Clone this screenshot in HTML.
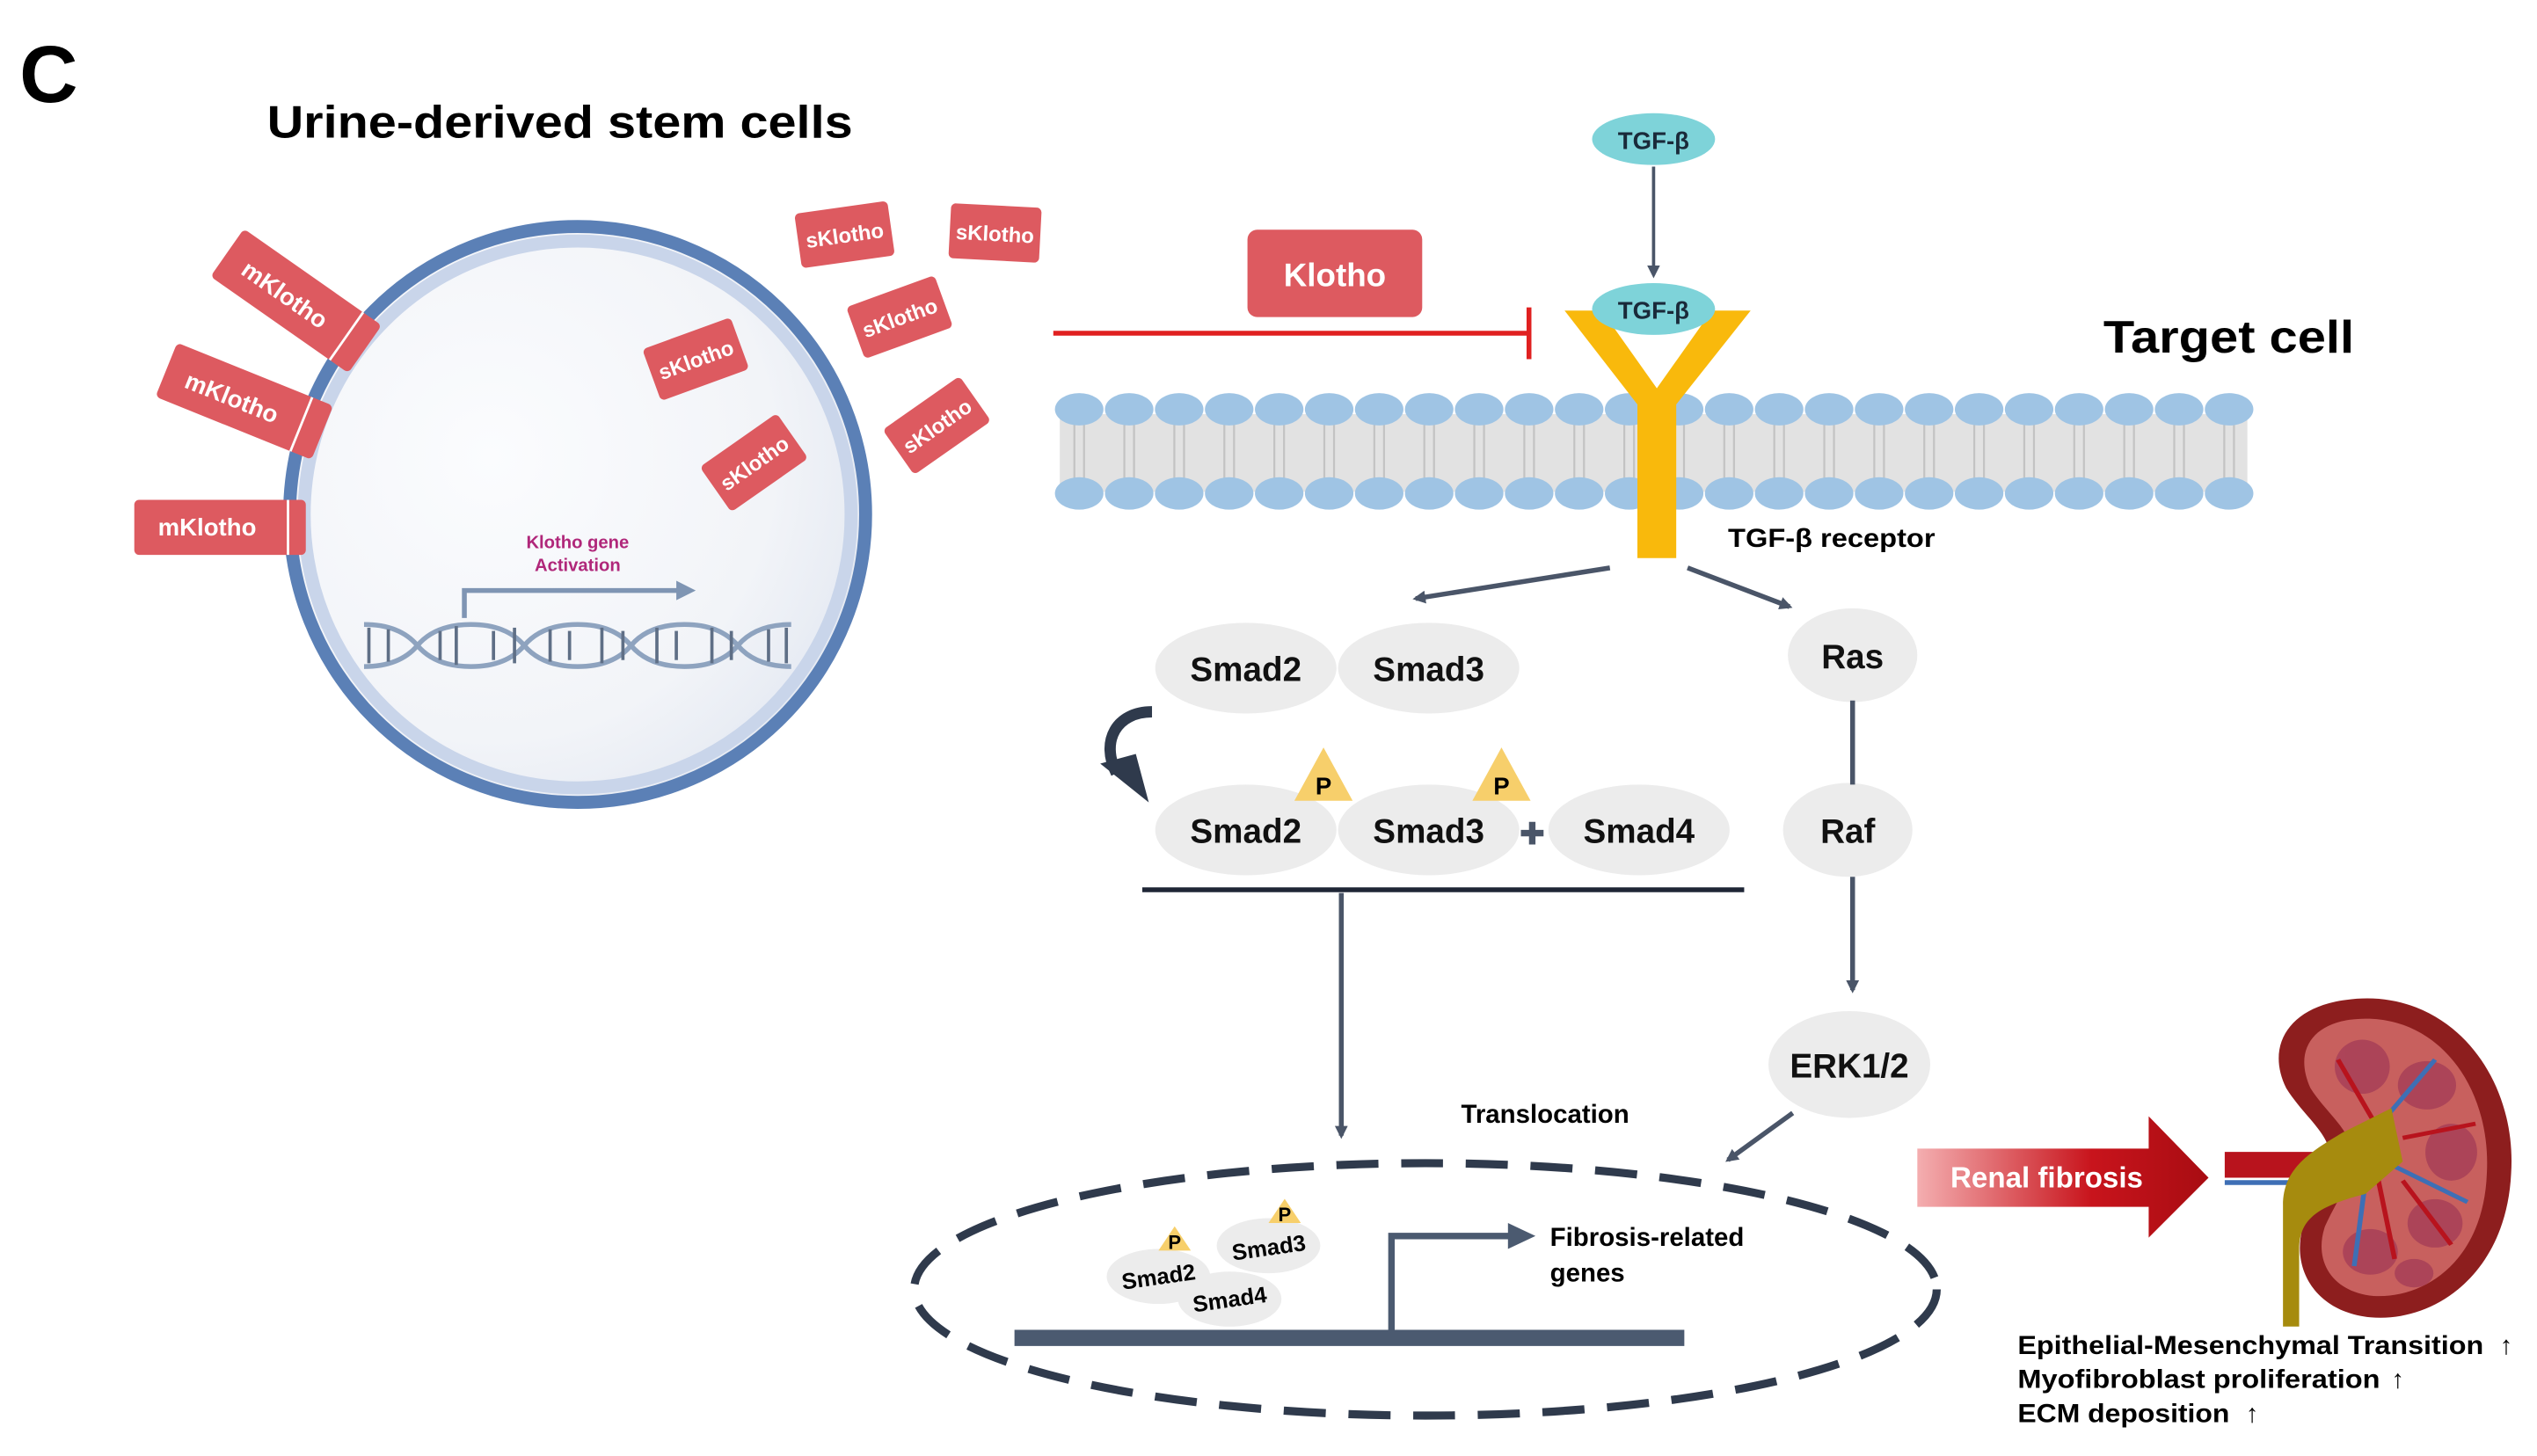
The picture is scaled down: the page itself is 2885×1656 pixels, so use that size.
<!DOCTYPE html>
<html><head><meta charset="utf-8"><style>
html,body{margin:0;padding:0;background:#fff;}
svg{display:block;}
text{font-family:"Liberation Sans",Arial,sans-serif;font-weight:bold;}
</style></head><body>
<svg width="2885" height="1656" viewBox="0 0 1568 900" preserveAspectRatio="none" xmlns="http://www.w3.org/2000/svg">
<defs>
<radialGradient id="cellg" cx="0.35" cy="0.4" r="0.7"><stop offset="0" stop-color="#fbfcfe"/><stop offset="0.7" stop-color="#f2f4f8"/><stop offset="1" stop-color="#e4e9f2"/></radialGradient>
<linearGradient id="rf" x1="0" x2="1"><stop offset="0" stop-color="#f4aeb0"/><stop offset="0.6" stop-color="#c8141c"/><stop offset="1" stop-color="#a80c12"/></linearGradient>
<marker id="ah" markerWidth="8" markerHeight="8" refX="6" refY="4" orient="auto" markerUnits="userSpaceOnUse"><path d="M0,0 L8,4 L0,8 z" fill="#4a5568"/></marker>
</defs>
<text x="12" y="63" font-size="50">C</text>
<text x="165" y="85" font-size="28" textLength="362" lengthAdjust="spacingAndGlyphs">Urine-derived stem cells</text>
<ellipse cx="357" cy="318" rx="178" ry="178" fill="url(#cellg)" stroke="#5b80b6" stroke-width="8"/>
<ellipse cx="357" cy="318" rx="169" ry="169" fill="none" stroke="#c9d5ea" stroke-width="8"/>
<g fill="#dd5a60">
<g transform="translate(183,186) rotate(35)"><rect x="-52" y="-18" width="104" height="36" rx="3"/><line x1="38" y1="-18" x2="38" y2="18" stroke="#fff" stroke-width="1.5"/><text x="-8" y="6" font-size="15" fill="#fff" text-anchor="middle">mKlotho</text></g>
<g transform="translate(151,248) rotate(22)"><rect x="-52" y="-18" width="104" height="36" rx="3"/><line x1="38" y1="-18" x2="38" y2="18" stroke="#fff" stroke-width="1.5"/><text x="-8" y="6" font-size="15" fill="#fff" text-anchor="middle">mKlotho</text></g>
<g transform="translate(136,326)"><rect x="-53" y="-17" width="106" height="34" rx="3"/><line x1="42" y1="-17" x2="42" y2="17" stroke="#fff" stroke-width="1.5"/><text x="-8" y="5" font-size="15" fill="#fff" text-anchor="middle">mKlotho</text></g>
<g transform="translate(522,145) rotate(-8)"><rect x="-29" y="-17" width="58" height="34" rx="3"/><text x="0" y="5" font-size="13" fill="#fff" text-anchor="middle">sKlotho</text></g>
<g transform="translate(615,144) rotate(3)"><rect x="-28" y="-17" width="56" height="34" rx="3"/><text x="0" y="5" font-size="13" fill="#fff" text-anchor="middle">sKlotho</text></g>
<g transform="translate(430,222) rotate(-20)"><rect x="-29" y="-17" width="58" height="34" rx="3"/><text x="0" y="5" font-size="13" fill="#fff" text-anchor="middle">sKlotho</text></g>
<g transform="translate(556,196) rotate(-20)"><rect x="-29" y="-17" width="58" height="34" rx="3"/><text x="0" y="5" font-size="13" fill="#fff" text-anchor="middle">sKlotho</text></g>
<g transform="translate(466,286) rotate(-35)"><rect x="-29" y="-17" width="58" height="34" rx="3"/><text x="0" y="5" font-size="13" fill="#fff" text-anchor="middle">sKlotho</text></g>
<g transform="translate(579,263) rotate(-35)"><rect x="-29" y="-17" width="58" height="34" rx="3"/><text x="0" y="5" font-size="13" fill="#fff" text-anchor="middle">sKlotho</text></g>
</g>
<text x="357" y="339" font-size="11" fill="#b0277a" text-anchor="middle">Klotho gene</text>
<text x="357" y="353" font-size="11" fill="#b0277a" text-anchor="middle">Activation</text>
<path d="M287,382 V365 H420" fill="none" stroke="#7f95b3" stroke-width="3"/>
<path d="M418,359 L430,365 L418,371z" fill="#7f95b3"/>
<g fill="none" stroke="#8ea3bf" stroke-width="3">
<path d="M225,386 q22,0 33,13 q11,13 33,13 q22,0 33,-13 q11,-13 33,-13 q22,0 33,13 q11,13 33,13 q22,0 33,-13 q11,-13 33,-13"/>
<path d="M225,412 q22,0 33,-13 q11,-13 33,-13 q22,0 33,13 q11,13 33,13 q22,0 33,-13 q11,-13 33,-13 q22,0 33,13 q11,13 33,13"/>
</g>
<g stroke="#5f6f86" stroke-width="2">
<line x1="228" y1="388" x2="228" y2="410"/><line x1="240" y1="389" x2="240" y2="409"/><line x1="272" y1="390" x2="272" y2="408"/><line x1="282" y1="387" x2="282" y2="411"/><line x1="305" y1="390" x2="305" y2="408"/><line x1="318" y1="388" x2="318" y2="410"/><line x1="340" y1="389" x2="340" y2="409"/><line x1="352" y1="390" x2="352" y2="408"/><line x1="372" y1="388" x2="372" y2="410"/><line x1="385" y1="390" x2="385" y2="408"/><line x1="406" y1="388" x2="406" y2="410"/><line x1="418" y1="390" x2="418" y2="408"/><line x1="440" y1="388" x2="440" y2="410"/><line x1="452" y1="390" x2="452" y2="408"/><line x1="475" y1="389" x2="475" y2="409"/><line x1="486" y1="388" x2="486" y2="410"/>
</g>
<rect x="771" y="142" width="108" height="54" rx="6" fill="#dd5a60"/>
<text x="825" y="177" font-size="20" fill="#fff" text-anchor="middle">Klotho</text>
<line x1="651" y1="206" x2="945" y2="206" stroke="#e02020" stroke-width="3"/>
<line x1="945" y1="190" x2="945" y2="222" stroke="#e02020" stroke-width="3"/>
<rect x="655" y="256" width="734" height="48" fill="#e2e2e2"/>
<g stroke="#c3c3c3" stroke-width="1.2" id="tails"></g>
<g fill="#9fc4e4" id="heads"></g>
<script>
(function(){var t=document.getElementById('tails'),h=document.getElementById('heads'),ns='http://www.w3.org/2000/svg';
for(var x=667;x<=1380;x+=30.9){
[-3,3].forEach(function(d){var l=document.createElementNS(ns,'line');l.setAttribute('x1',x+d);l.setAttribute('x2',x+d);l.setAttribute('y1',262);l.setAttribute('y2',298);t.appendChild(l);});
[253,305].forEach(function(y){var e=document.createElementNS(ns,'ellipse');e.setAttribute('cx',x);e.setAttribute('cy',y);e.setAttribute('rx',15);e.setAttribute('ry',10);h.appendChild(e);});}})();
</script>
<path d="M967,192 L990,192 L1024,240 L1058,192 L1082,192 L1036,250 L1036,345 L1012,345 L1012,250 Z" fill="#f9b90c"/>
<ellipse cx="1022" cy="86" rx="38" ry="16" fill="#7ed3d9"/>
<text x="1022" y="92" font-size="15" text-anchor="middle" fill="#1a2a3a">TGF-β</text>
<line x1="1022" y1="103" x2="1022" y2="170" stroke="#4a5568" stroke-width="2" marker-end="url(#ah)"/>
<ellipse cx="1022" cy="191" rx="38" ry="16" fill="#7ed3d9"/>
<text x="1022" y="197" font-size="15" text-anchor="middle" fill="#1a2a3a">TGF-β</text>
<text x="1300" y="218" font-size="28" textLength="155" lengthAdjust="spacingAndGlyphs">Target cell</text>
<text x="1068" y="338" font-size="16" textLength="128" lengthAdjust="spacingAndGlyphs">TGF-β receptor</text>
<line x1="995" y1="351" x2="875" y2="370" stroke="#4a5568" stroke-width="3" marker-end="url(#ah)"/>
<line x1="1043" y1="351" x2="1106" y2="375" stroke="#4a5568" stroke-width="3" marker-end="url(#ah)"/>
<g fill="#ececec">
<ellipse cx="770" cy="413" rx="56" ry="28"/><ellipse cx="883" cy="413" rx="56" ry="28"/>
<ellipse cx="1145" cy="405" rx="40" ry="29"/><ellipse cx="1142" cy="513" rx="40" ry="29"/><ellipse cx="1143" cy="658" rx="50" ry="33"/>
<ellipse cx="770" cy="513" rx="56" ry="28"/><ellipse cx="883" cy="513" rx="56" ry="28"/><ellipse cx="1013" cy="513" rx="56" ry="28"/>
</g>
<g font-size="21" text-anchor="middle" fill="#111">
<text x="770" y="421">Smad2</text><text x="883" y="421">Smad3</text>
<text x="1145" y="413">Ras</text><text x="1142" y="521">Raf</text><text x="1143" y="666">ERK1/2</text>
<text x="770" y="521">Smad2</text><text x="883" y="521">Smad3</text><text x="1013" y="521">Smad4</text>
</g>
<path d="M800,495 L818,462 L836,495 Z" fill="#f7cf6b"/><text x="818" y="491" font-size="15" text-anchor="middle">P</text>
<path d="M910,495 L928,462 L946,495 Z" fill="#f7cf6b"/><text x="928" y="491" font-size="15" text-anchor="middle">P</text>
<path d="M940,515 h14 M947,508 v14" stroke="#4a5568" stroke-width="4"/>
<path d="M712,440 C690,440 680,458 690,478" fill="none" stroke="#2f3a4c" stroke-width="7"/>
<path d="M680,472 L710,496 L702,466 Z" fill="#2f3a4c"/>
<line x1="1145" y1="433" x2="1145" y2="485" stroke="#4a5568" stroke-width="3"/>
<line x1="1145" y1="542" x2="1145" y2="612" stroke="#4a5568" stroke-width="3" marker-end="url(#ah)"/>
<line x1="706" y1="550" x2="1078" y2="550" stroke="#1f2636" stroke-width="3"/>
<line x1="829" y1="552" x2="829" y2="702" stroke="#4a5568" stroke-width="3" marker-end="url(#ah)"/>
<text x="955" y="694" font-size="16" text-anchor="middle">Translocation</text>
<line x1="1108" y1="688" x2="1068" y2="717" stroke="#4a5568" stroke-width="3" marker-end="url(#ah)"/>
<ellipse cx="881" cy="797" rx="316" ry="78" fill="none" stroke="#2f3a4c" stroke-width="5" stroke-dasharray="26,14"/>
<rect x="627" y="822" width="414" height="10" fill="#4b5a70"/>
<path d="M860,822 V764 H935" fill="none" stroke="#4b5a70" stroke-width="4"/>
<path d="M932,756 L949,764 L932,772 Z" fill="#4b5a70"/>
<text x="958" y="770" font-size="16">Fibrosis-related</text>
<text x="958" y="792" font-size="16">genes</text>
<g fill="#ececec"><ellipse cx="784" cy="770" rx="32" ry="17"/><ellipse cx="760" cy="803" rx="32" ry="17"/><ellipse cx="716" cy="789" rx="32" ry="17"/></g>
<g font-size="14" text-anchor="middle"><text x="784" y="776" transform="rotate(-8 784 770)">Smad3</text><text x="760" y="808" transform="rotate(-8 760 803)">Smad4</text><text x="716" y="794" transform="rotate(-8 716 789)">Smad2</text></g>
<path d="M716,773 L726,758 L736,773Z" fill="#f7cf6b"/><text x="726" y="772" font-size="12" text-anchor="middle">P</text>
<path d="M784,756 L794,741 L804,756Z" fill="#f7cf6b"/><text x="794" y="755" font-size="12" text-anchor="middle">P</text>
<path d="M1185,710 H1328 V690 L1365,728 L1328,765 V746 H1185 Z" fill="url(#rf)"/>
<text x="1265" y="734" font-size="18" fill="#fff" text-anchor="middle">Renal fibrosis</text>
<!-- kidney -->
<g transform="translate(0,74.2) scale(1,0.88)">
<path d="M1450,618 C1512,608 1556,670 1552,740 C1549,810 1505,845 1465,841 C1430,837 1415,805 1424,775 C1432,755 1440,745 1440,728 C1440,712 1424,700 1413,680 C1400,650 1415,623 1450,618 Z" fill="#8d1e1e"/>
<path d="M1452,632 C1505,624 1540,678 1537,740 C1535,800 1500,828 1467,826 C1440,823 1430,800 1437,777 C1445,757 1454,745 1454,728 C1454,710 1438,698 1428,680 C1418,655 1428,636 1452,632 Z" fill="#c8605e"/>
<g fill="#a84058" opacity="0.85"><ellipse cx="1460" cy="665" rx="17" ry="19"/><ellipse cx="1500" cy="678" rx="18" ry="17"/><ellipse cx="1515" cy="725" rx="16" ry="20"/><ellipse cx="1505" cy="775" rx="17" ry="17"/><ellipse cx="1465" cy="795" rx="17" ry="16"/><ellipse cx="1492" cy="810" rx="12" ry="10"/></g>
<g stroke-width="3" fill="none">
<line x1="1468" y1="705" x2="1445" y2="660" stroke="#b8131d"/><line x1="1475" y1="700" x2="1505" y2="660" stroke="#3e6fb5"/><line x1="1485" y1="715" x2="1530" y2="705" stroke="#b8131d"/><line x1="1480" y1="735" x2="1525" y2="760" stroke="#3e6fb5"/><line x1="1470" y1="745" x2="1480" y2="800" stroke="#b8131d"/><line x1="1462" y1="745" x2="1455" y2="805" stroke="#3e6fb5"/><line x1="1485" y1="745" x2="1515" y2="790" stroke="#b8131d"/>
</g>
</g>
<path d="M1375,712 H1445 V728 H1375 Z" fill="#b8131d"/>
<line x1="1375" y1="731" x2="1440" y2="731" stroke="#3e6fb5" stroke-width="3"/>
<path d="M1411,820 V745 C1411,722 1428,712 1448,700 L1478,685 L1485,718 L1462,738 C1435,745 1421,752 1421,772 V820 Z" fill="#a68b0e"/>
<g font-size="16"><text x="1247" y="837" textLength="288" lengthAdjust="spacingAndGlyphs">Epithelial-Mesenchymal Transition</text><text x="1545" y="837">↑</text>
<text x="1247" y="858" textLength="224" lengthAdjust="spacingAndGlyphs">Myofibroblast proliferation</text><text x="1478" y="858">↑</text>
<text x="1247" y="879" textLength="131" lengthAdjust="spacingAndGlyphs">ECM deposition</text><text x="1388" y="879">↑</text></g>
</svg>
</body></html>
